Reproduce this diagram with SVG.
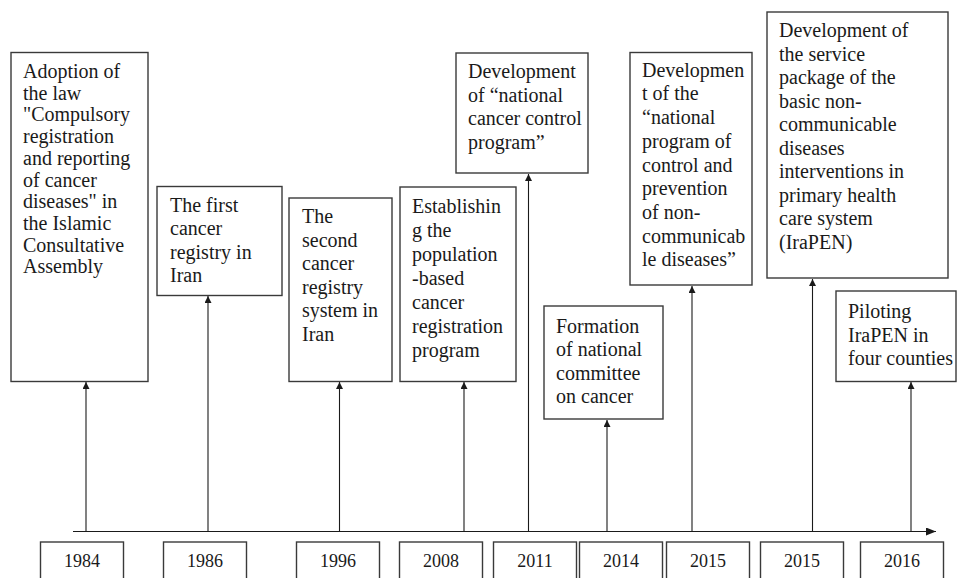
<svg xmlns="http://www.w3.org/2000/svg" width="962" height="578" viewBox="0 0 962 578">
<style>
.box{fill:#fff;stroke:#3a3a3a;stroke-width:1.4}
.t{font-family:"Liberation Serif","Times New Roman",serif;font-size:20px;fill:#1a1a1a}
.y{font-family:"Liberation Serif","Times New Roman",serif;font-size:18px;fill:#1a1a1a;text-anchor:middle}
.c{stroke:#1a1a1a;stroke-width:1.1;fill:none}
</style>
<defs>
<marker id="ah" viewBox="0 0 10 10" refX="10" refY="5" markerWidth="7" markerHeight="7" markerUnits="userSpaceOnUse" orient="auto"><path d="M0,0L10,5L0,10Z" fill="#1a1a1a"/></marker>
<marker id="ax" viewBox="0 0 10 10" refX="10" refY="5" markerWidth="10" markerHeight="8" markerUnits="userSpaceOnUse" orient="auto" preserveAspectRatio="none"><path d="M0,0L10,5L0,10Z" fill="#1a1a1a"/></marker>
</defs>
<rect width="962" height="578" fill="#fff"/>

<g id="connectors">
<line class="c" x1="73" y1="531.5" x2="936" y2="531.5" marker-end="url(#ax)"/>
<line class="c" x1="86" y1="531.5" x2="86" y2="382" marker-end="url(#ah)"/>
<line class="c" x1="208" y1="531.5" x2="208" y2="296" marker-end="url(#ah)"/>
<line class="c" x1="339.5" y1="531.5" x2="339.5" y2="382" marker-end="url(#ah)"/>
<line class="c" x1="464" y1="531.5" x2="464" y2="382" marker-end="url(#ah)"/>
<line class="c" x1="528.5" y1="531.5" x2="528.5" y2="174" marker-end="url(#ah)"/>
<line class="c" x1="607" y1="531.5" x2="607" y2="420" marker-end="url(#ah)"/>
<line class="c" x1="692" y1="531.5" x2="692" y2="286" marker-end="url(#ah)"/>
<line class="c" x1="812.5" y1="531.5" x2="812.5" y2="279" marker-end="url(#ah)"/>
<line class="c" x1="911" y1="531.5" x2="911" y2="382" marker-end="url(#ah)"/>
</g>

<g id="n1984">
<rect class="box" x="11" y="52.5" width="137" height="329"/>
<text class="t"><tspan x="23" y="78">Adoption of</tspan><tspan x="23" y="99.7">the law</tspan><tspan x="23" y="121.4">"Compulsory</tspan><tspan x="23" y="143.1">registration</tspan><tspan x="23" y="164.8">and reporting</tspan><tspan x="23" y="186.5">of cancer</tspan><tspan x="23" y="208.2">diseases" in</tspan><tspan x="23" y="229.9">the Islamic</tspan><tspan x="23" y="251.6">Consultative</tspan><tspan x="23" y="273.3">Assembly</tspan></text>
</g>

<g id="n1986">
<rect class="box" x="157" y="186.5" width="125" height="109"/>
<text class="t"><tspan x="170" y="212">The first</tspan><tspan x="170" y="235.3">cancer</tspan><tspan x="170" y="258.6">registry in</tspan><tspan x="170" y="282">Iran</tspan></text>
</g>

<g id="n1996">
<rect class="box" x="289" y="198" width="103" height="183.5"/>
<text class="t"><tspan x="302" y="223">The</tspan><tspan x="302" y="246.5">second</tspan><tspan x="302" y="270">cancer</tspan><tspan x="302" y="293.5">registry</tspan><tspan x="302" y="317">system in</tspan><tspan x="302" y="340.5">Iran</tspan></text>
</g>

<g id="n2008">
<rect class="box" x="400" y="187" width="116" height="194.5"/>
<text class="t"><tspan x="412" y="213">Establishin</tspan><tspan x="412" y="237">g the</tspan><tspan x="412" y="261">population</tspan><tspan x="412" y="285">-based</tspan><tspan x="412" y="309">cancer</tspan><tspan x="412" y="333">registration</tspan><tspan x="412" y="357">program</tspan></text>
</g>

<g id="n2011">
<rect class="box" x="456" y="53" width="132" height="120"/>
<text class="t"><tspan x="468" y="78">Development</tspan><tspan x="468" y="101.7">of “national</tspan><tspan x="468" y="125.3">cancer control</tspan><tspan x="468" y="149">program”</tspan></text>
</g>

<g id="n2014">
<rect class="box" x="544" y="306" width="119" height="113"/>
<text class="t"><tspan x="556" y="333">Formation</tspan><tspan x="556" y="356.3">of national</tspan><tspan x="556" y="379.7">committee</tspan><tspan x="556" y="403">on cancer</tspan></text>
</g>

<g id="n2015a">
<rect class="box" x="630" y="52.5" width="122" height="232.5"/>
<text class="t"><tspan x="642" y="76.7">Developmen</tspan><tspan x="642" y="100.4">t of the</tspan><tspan x="642" y="124.1">“national</tspan><tspan x="642" y="147.8">program of</tspan><tspan x="642" y="171.5">control and</tspan><tspan x="642" y="195.2">prevention</tspan><tspan x="642" y="218.9">of non-</tspan><tspan x="642" y="242.6">communicab</tspan><tspan x="642" y="266.3">le diseases”</tspan></text>
</g>

<g id="n2015b">
<rect class="box" x="767" y="12" width="181" height="266"/>
<text class="t"><tspan x="779" y="37">Development of</tspan><tspan x="779" y="60.5">the service</tspan><tspan x="779" y="84">package of the</tspan><tspan x="779" y="107.5">basic non-</tspan><tspan x="779" y="131">communicable</tspan><tspan x="779" y="154.5">diseases</tspan><tspan x="779" y="178">interventions in</tspan><tspan x="779" y="201.5">primary health</tspan><tspan x="779" y="225">care system</tspan><tspan x="779" y="248.5">(IraPEN)</tspan></text>
</g>

<g id="n2016">
<rect class="box" x="836" y="291" width="120" height="90.5"/>
<text class="t"><tspan x="848" y="318">Piloting</tspan><tspan x="848" y="341.5">IraPEN in</tspan><tspan x="848" y="365">four counties</tspan></text>
</g>

<g id="years">
<rect class="box" x="40.5" y="542" width="83" height="50"/><text class="y" x="82" y="567">1984</text>
<rect class="box" x="163.5" y="542" width="83" height="50"/><text class="y" x="205" y="567">1986</text>
<rect class="box" x="296.5" y="542" width="83" height="50"/><text class="y" x="338" y="567">1996</text>
<rect class="box" x="399.5" y="542" width="83" height="50"/><text class="y" x="441" y="567">2008</text>
<rect class="box" x="493.5" y="542" width="83" height="50"/><text class="y" x="535" y="567">2011</text>
<rect class="box" x="579.5" y="542" width="83" height="50"/><text class="y" x="621" y="567">2014</text>
<rect class="box" x="666.5" y="542" width="83" height="50"/><text class="y" x="708" y="567">2015</text>
<rect class="box" x="760.5" y="542" width="83" height="50"/><text class="y" x="802" y="567">2015</text>
<rect class="box" x="860.5" y="542" width="83" height="50"/><text class="y" x="902" y="567">2016</text>
</g>
</svg>
